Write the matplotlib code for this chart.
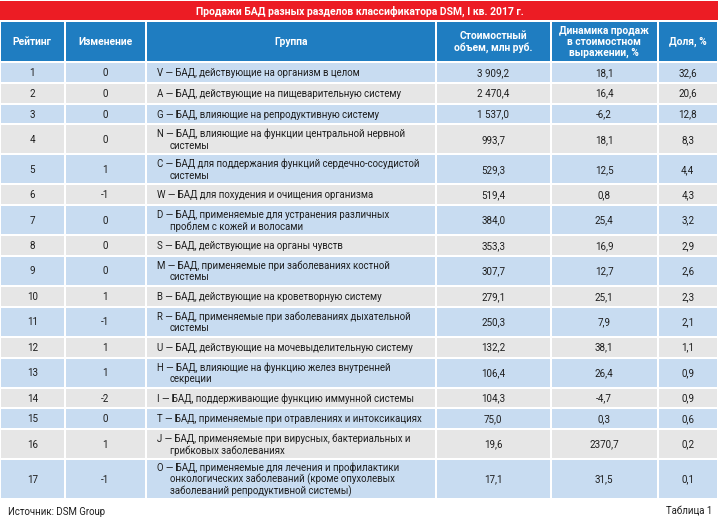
import matplotlib.pyplot as plt
from matplotlib.patches import Rectangle

plt.rcParams['font.family'] = ['Roboto', 'DejaVu Sans']

# данные таблицы
title = "Продажи БАД разных разделов классификатора DSM, I кв. 2017 г."
headers = ["Рейтинг", "Изменение", "Группа", "Стоимостный\nобъем, млн руб.",
           "Динамика продаж\nв стоимостном\nвыражении, %", "Доля, %"]

rating = list(range(1, 18))
change = [0, 0, 0, 0, 1, -1, 0, 0, 0, 1, -1, 1, 1, -2, 0, 1, -1]
groups = [
    ["V — БАД, действующие на организм в целом"],
    ["A — БАД, действующие на пищеварительную систему"],
    ["G — БАД, влияющие на репродуктивную систему"],
    ["N — БАД, влияющие на функции центральной нервной", "системы"],
    ["C — БАД для поддержания функций сердечно-сосудистой", "системы"],
    ["W — БАД для похудения и очищения организма"],
    ["D — БАД, применяемые для устранения различных", "проблем с кожей и волосами"],
    ["S — БАД, действующие на органы чувств"],
    ["M — БАД, применяемые при заболеваниях костной", "системы"],
    ["B — БАД, действующие на кроветворную систему"],
    ["R — БАД, применяемые при заболеваниях дыхательной", "системы"],
    ["U — БАД, действующие на мочевыделительную систему"],
    ["H — БАД, влияющие на функцию желез внутренней", "секреции"],
    ["I — БАД, поддерживающие функцию иммунной системы"],
    ["T — БАД, применяемые при отравлениях и интоксикациях"],
    ["J — БАД, применяемые при вирусных, бактериальных и", "грибковых заболеваниях"],
    ["O — БАД, применяемые для лечения и профилактики",
     "онкологических заболеваний (кроме опухолевых",
     "заболеваний репродуктивной системы)"],
]
volume = [3909.2, 2470.4, 1537.0, 993.7, 529.3, 519.4, 384.0, 353.3, 307.7,
          279.1, 250.3, 132.2, 106.4, 104.3, 75.0, 19.6, 17.1]
dynamics = [18.1, 16.4, -6.2, 18.1, 12.5, 0.8, 25.4, 16.9, 12.7,
            25.1, 7.9, 38.1, 26.4, -4.7, 0.3, 2370.7, 31.5]
share = [32.6, 20.6, 12.8, 8.3, 4.4, 4.3, 3.2, 2.9, 2.6,
         2.3, 2.1, 1.1, 0.9, 0.9, 0.6, 0.2, 0.1]


def ru(v, group=False):
    s = f"{v:,.1f}" if group else f"{v:.1f}"
    return s.replace(",", " ").replace(".", ",")


# оформление
RED = "#ec1c24"
BLUE = "#1f7dc1"
ROW_BLUE = "#c8dcf1"
ROW_GRAY = "#e6e6e6"
TXT = "#1e1e1e"
FS = 6.9

col_edges = [0, 64.5, 146, 436, 550.5, 657.5, 718]
row_h = {1: 20.8, 2: 30.0, 3: 40.0}

fig = plt.figure(figsize=(7.2, 5.22), dpi=100)
ax = fig.add_axes([0, 0, 1, 1])
ax.set_xlim(0, 720)
ax.set_ylim(522, 0)
ax.axis("off")

g = 1.0  # половина белой линии сетки

# заголовок
ax.add_patch(Rectangle((0, 1), 718, 19, color=RED, lw=0))
ax.text(360, 11, title, color="white", fontsize=7.5, fontweight="bold",
        ha="center", va="center")

# шапка
y0, y1 = 21, 62
for i in range(6):
    x0, x1 = col_edges[i], col_edges[i + 1]
    ax.add_patch(Rectangle((x0 + g, y0 + g), x1 - x0 - 2 * g, y1 - y0 - 2 * g,
                           color=BLUE, lw=0))
    ax.text((x0 + x1) / 2, (y0 + y1) / 2 + 0.5, headers[i], color="white",
            fontsize=7.4, fontweight="bold", ha="center", va="center",
            linespacing=1.1)

# строки
y = y1
for r in range(len(rating)):
    lines = groups[r]
    h = row_h[len(lines)]
    fc = ROW_BLUE if r % 2 == 0 else ROW_GRAY
    for i in range(6):
        x0, x1 = col_edges[i], col_edges[i + 1]
        ax.add_patch(Rectangle((x0 + g, y + g), x1 - x0 - 2 * g, h - 2 * g,
                               color=fc, lw=0))
    cy = y + h / 2 + 0.5
    vals = [str(rating[r]), str(change[r]), None,
            ru(volume[r], True), ru(dynamics[r]), ru(share[r])]
    for i, v in enumerate(vals):
        if v is None:
            continue
        ax.text((col_edges[i] + col_edges[i + 1]) / 2, cy, v, color=TXT,
                fontsize=FS + 0.2, ha="center", va="center")
    step = 11.5
    top = cy - step * (len(lines) - 1) / 2
    for k, ln in enumerate(lines):
        ax.text(157 if k == 0 else 170, top + k * step, ln, color=TXT,
                fontsize=FS, ha="left", va="center")
    y += h

# подвал
ax.text(8, 512, "Источник: DSM Group", color=TXT, fontsize=FS,
        ha="left", va="center")
ax.text(712, 512, "Таблица 1", color=TXT, fontsize=FS,
        ha="right", va="center")

fig.savefig("out.png", dpi=100)
